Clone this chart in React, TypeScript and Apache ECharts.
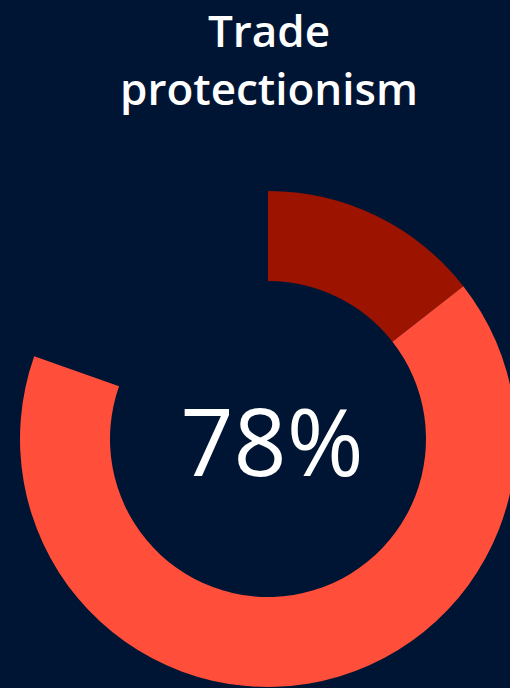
import React, { useEffect, useRef } from "react";
import * as echarts from "echarts";

const titleLines = ["Trade", "protectionism"];
const categories = ["Very concerned", "Somewhat concerned", "Other"];
const values = [14, 64, 19];
const centerLabel = "78%";

const BG = "#001533";
const colors = ["#9c1400", "#ff4f3a", "rgba(0,0,0,0)"];

export default function App() {
  const ref = useRef<HTMLDivElement>(null);
  useEffect(() => {
    document.body.style.margin = "0";
    document.body.style.background = BG;
    const chart = echarts.init(ref.current!, undefined, { renderer: "svg" });
    chart.setOption({
      animation: false,
      backgroundColor: BG,
      graphic: [
        {
          type: "text",
          x: 269,
          y: 30,
          style: {
            text: titleLines[0],
            fill: "#ffffff",
            font: "600 44px 'Open Sans', 'Noto Sans', sans-serif",
            textAlign: "center",
            textVerticalAlign: "middle",
          },
        },
        {
          type: "text",
          x: 269,
          y: 88,
          style: {
            text: titleLines[1],
            fill: "#ffffff",
            font: "600 44px 'Open Sans', 'Noto Sans', sans-serif",
            textAlign: "center",
            textVerticalAlign: "middle",
          },
        },
        {
          type: "text",
          x: 272,
          y: 440,
          style: {
            text: centerLabel,
            fill: "#ffffff",
            font: "400 93px 'Open Sans', 'Noto Sans', sans-serif",
            textAlign: "center",
            textVerticalAlign: "middle",
          },
        },
      ],
      series: [
        {
          type: "pie",
          silent: true,
          center: [268, 439],
          radius: [158, 248],
          startAngle: 90,
          clockwise: true,
          label: { show: false },
          labelLine: { show: false },
          emphasis: { disabled: true },
          data: categories.map((name, i) => ({
            name,
            value: values[i],
            itemStyle: { color: colors[i] },
          })),
        },
      ],
    });
    return () => chart.dispose();
  }, []);
  return <div ref={ref} style={{ width: 510, height: 688 }} />;
}
